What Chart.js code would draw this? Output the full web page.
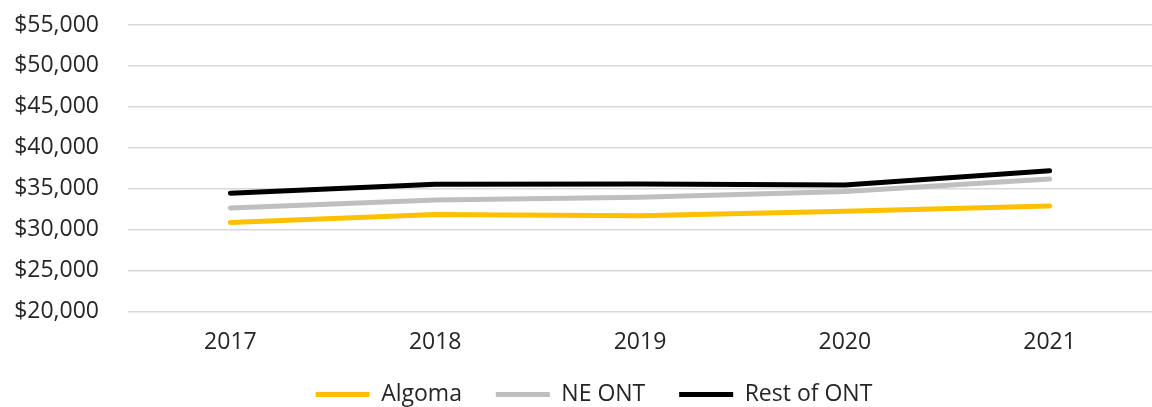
<!DOCTYPE html>
<html>
<head>
<meta charset="utf-8">
<script src="https://cdn.jsdelivr.net/npm/chart.js@4/dist/chart.umd.min.js"></script>
<style>
html,body{margin:0;padding:0;background:#fff;}
#wrap{width:1152px;height:407px;}
</style>
</head>
<body>
<div id="wrap"><canvas id="c" width="1152" height="407"></canvas></div>
<script>
const years = ['2017', '2018', '2019', '2020', '2021'];
const algoma = [30850, 31830, 31680, 32240, 32890];
const neOnt = [32640, 33620, 33950, 34640, 36190];
const restOfOnt = [34440, 35540, 35580, 35450, 37200];
const yTicks = [20000, 25000, 30000, 35000, 40000, 45000, 50000, 55000];

const FONT = "'Open Sans', 'Noto Sans', sans-serif";
const TXT = '#262626';
const FS = 23;

function ds(label, data, color) {
  return {
    label, data,
    borderColor: color, backgroundColor: color,
    borderWidth: 5, borderCapStyle: 'round', borderJoinStyle: 'round',
    pointRadius: 0, pointHoverRadius: 0, tension: 0, fill: false,
    pointStyle: 'line'
  };
}

const legendShift = {
  id: 'legendShift',
  afterLayout(chart) {
    if (chart.legend) { chart.legend.left += 18; chart.legend.right += 18; }
  }
};

new Chart(document.getElementById('c'), {
  type: 'line',
  data: {
    labels: years,
    datasets: [
      ds('Algoma', algoma, '#FFC000'),
      ds('NE ONT', neOnt, '#BFBFBF'),
      ds('Rest of ONT', restOfOnt, '#000000')
    ]
  },
  plugins: [legendShift],
  options: {
    responsive: false,
    animation: false,
    layout: { padding: { top: 25, right: 0, left: 0, bottom: -9 } },
    plugins: {
      tooltip: { enabled: false },
      legend: {
        position: 'bottom',
        labels: {
          usePointStyle: true,
          pointStyleWidth: 54,
          boxHeight: FS,
          padding: 10,
          color: TXT,
          font: { family: FONT, size: FS },
          generateLabels: chart => {
            const items = Chart.defaults.plugins.legend.labels.generateLabels(chart);
            items.forEach((it, i) => { if (i < items.length - 1) it.text = it.text + '    '; });
            return items;
          }
        }
      }
    },
    scales: {
      x: {
        offset: true,
        grid: { display: false, drawTicks: false },
        border: { display: false },
        ticks: { color: TXT, font: { family: FONT, size: FS }, padding: 17 }
      },
      y: {
        min: 20000, max: 55000,
        afterBuildTicks: s => { s.ticks = yTicks.map(v => ({ value: v })); },
        afterFit: s => { s.width = 128; },
        grid: { color: '#D9D9D9', lineWidth: 1.5, drawTicks: true, tickLength: 29, tickColor: 'rgba(0,0,0,0)' },
        border: { display: false },
        ticks: {
          color: TXT, font: { family: FONT, size: FS }, padding: 0,
          callback: v => '$' + v.toLocaleString('en-US')
        }
      }
    }
  }
});
</script>
</body>
</html>
